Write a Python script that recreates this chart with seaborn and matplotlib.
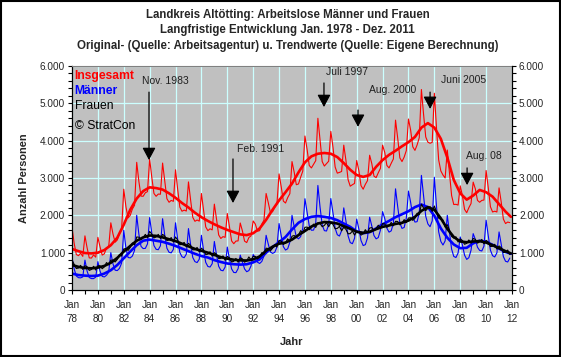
import matplotlib
matplotlib.use("Agg")
import matplotlib.pyplot as plt
from matplotlib.patches import Rectangle
from matplotlib.ticker import MultipleLocator, FixedLocator, FuncFormatter
import pandas as pd
import seaborn as sns

#%% Data
years = list(range(1978, 2012))
months = [1, 3, 5, 7, 9, 11]   # original values, every second month

maenner_raw = [
    [880, 565, 375, 330, 325, 350], [800, 505, 335, 305, 305, 345],
    [760, 505, 365, 350, 395, 475], [1000, 700, 530, 520, 580, 720],
    [1600, 1120, 870, 860, 910, 1060], [2000, 1495, 1170, 1110, 1115, 1235],
    [1940, 1520, 1190, 1090, 1080, 1185], [1910, 1465, 1120, 1010, 995, 1090],
    [1800, 1355, 1005, 890, 865, 960], [1645, 1210, 870, 760, 735, 825],
    [1465, 1065, 740, 630, 615, 705], [1300, 940, 635, 530, 515, 615],
    [1150, 835, 565, 470, 465, 570], [935, 750, 565, 490, 520, 645],
    [950, 865, 745, 710, 765, 910], [1465, 1230, 1020, 980, 1010, 1150],
    [1780, 1455, 1160, 1070, 1105, 1280], [2000, 1700, 1420, 1370, 1430, 1655],
    [2445, 2080, 1720, 1600, 1605, 1790], [2800, 2220, 1745, 1590, 1580, 1755],
    [2450, 2065, 1655, 1480, 1445, 1590], [2200, 1850, 1450, 1270, 1240, 1385],
    [1900, 1635, 1325, 1190, 1215, 1395], [1950, 1715, 1460, 1370, 1405, 1605],
    [2100, 1915, 1655, 1550, 1585, 1790], [2710, 2235, 1795, 1650, 1675, 1930],
    [2650, 2350, 1970, 1820, 1830, 2065], [3070, 2510, 1975, 1770, 1695, 1850],
    [3020, 2235, 1560, 1300, 1205, 1315], [2000, 1545, 1095, 900, 870, 990],
    [1420, 1205, 935, 820, 865, 1065], [1510, 1355, 1145, 1060, 1045, 1175],
    [1870, 1450, 1065, 920, 885, 995], [1555, 1220, 895, 770, 750, 855],
]
frauen_raw = [
    [800, 685, 575, 590, 660, 550], [650, 625, 525, 550, 635, 535],
    [650, 650, 570, 620, 735, 675], [800, 800, 750, 820, 950, 910],
    [1100, 1110, 1060, 1140, 1260, 1210], [1420, 1415, 1345, 1400, 1490, 1400],
    [1570, 1495, 1395, 1420, 1490, 1380], [1490, 1445, 1325, 1340, 1405, 1285],
    [1420, 1335, 1215, 1220, 1275, 1155], [1250, 1195, 1075, 1080, 1140, 1020],
    [1120, 1070, 950, 960, 1025, 905], [1000, 960, 840, 850, 915, 795],
    [900, 860, 750, 770, 845, 745], [860, 835, 745, 780, 885, 805],
    [900, 900, 830, 880, 1000, 960], [1120, 1110, 1050, 1120, 1210, 1150],
    [1330, 1310, 1220, 1260, 1370, 1300], [1440, 1460, 1400, 1470, 1590, 1530],
    [1680, 1685, 1615, 1670, 1765, 1675], [1800, 1785, 1695, 1730, 1805, 1695],
    [1800, 1760, 1640, 1650, 1705, 1585], [1680, 1625, 1505, 1510, 1580, 1470],
    [1570, 1560, 1470, 1510, 1615, 1535], [1660, 1670, 1590, 1640, 1735, 1655],
    [1780, 1770, 1680, 1720, 1810, 1720], [1840, 1835, 1745, 1790, 1885, 1805],
    [1930, 1935, 1865, 1920, 2055, 2015], [2300, 2195, 2125, 2190, 2235, 2105],
    [2250, 2095, 1925, 1890, 1875, 1685], [1750, 1605, 1435, 1390, 1425, 1285],
    [1370, 1325, 1225, 1250, 1340, 1250], [1380, 1355, 1255, 1290, 1355, 1235],
    [1330, 1285, 1165, 1170, 1225, 1095], [1180, 1135, 1005, 1010, 1070, 950],
]
insgesamt_raw = [
    [1680, 1250, 950, 920, 985, 900], [1450, 1130, 860, 855, 940, 880],
    [1410, 1155, 935, 970, 1130, 1150], [1800, 1500, 1280, 1340, 1530, 1630],
    [2700, 2230, 1930, 2000, 2170, 2270], [3420, 2910, 2515, 2510, 2605, 2635],
    [3510, 3015, 2585, 2510, 2570, 2565], [3400, 2910, 2445, 2350, 2400, 2375],
    [3220, 2690, 2220, 2110, 2140, 2115], [2895, 2405, 1945, 1840, 1875, 1845],
    [2585, 2135, 1690, 1590, 1640, 1610], [2300, 1900, 1475, 1380, 1430, 1410],
    [2050, 1695, 1315, 1240, 1310, 1315], [1795, 1585, 1310, 1270, 1405, 1450],
    [1850, 1765, 1575, 1590, 1765, 1870], [2585, 2340, 2070, 2100, 2220, 2300],
    [3110, 2765, 2380, 2330, 2475, 2580], [3440, 3160, 2820, 2840, 3020, 3185],
    [4125, 3765, 3335, 3270, 3370, 3465], [4600, 4005, 3440, 3320, 3385, 3450],
    [4250, 3825, 3295, 3130, 3150, 3175], [3880, 3475, 2955, 2780, 2820, 2855],
    [3470, 3195, 2795, 2700, 2830, 2930], [3610, 3385, 3050, 3010, 3140, 3260],
    [3880, 3685, 3335, 3270, 3395, 3510], [4550, 4070, 3540, 3440, 3560, 3735],
    [4580, 4285, 3835, 3740, 3885, 4080], [5370, 4705, 4100, 3960, 3930, 3955],
    [5270, 4330, 3485, 3190, 3080, 3000], [3750, 3150, 2530, 2290, 2295, 2275],
    [2790, 2530, 2160, 2070, 2205, 2315], [2890, 2710, 2400, 2350, 2400, 2410],
    [3200, 2735, 2230, 2090, 2110, 2090], [2735, 2355, 1900, 1780, 1820, 1805],
]

# trend values for Jan and Jul of every year, last one Dec 2011
insgesamt_trend = [
    1100, 1040, 990, 980, 1000, 1070, 1200, 1400, 1750, 2150, 2450, 2650,
    2750, 2730, 2690, 2590, 2470, 2330, 2210, 2070, 1950, 1850, 1760, 1680,
    1610, 1550, 1490, 1470, 1520, 1650, 1880, 2150, 2400, 2620, 2850, 3150,
    3420, 3580, 3650, 3670, 3650, 3560, 3400, 3220, 3080, 3030, 3080, 3300,
    3480, 3620, 3730, 3850, 3960, 4100, 4350, 4470, 4350, 4050, 3550, 2950,
    2590, 2420, 2530, 2680, 2620, 2500, 2300, 2100, 1960,
]
maenner_trend = [
    440, 400, 385, 375, 385, 440, 530, 670, 850, 1030, 1200, 1320,
    1350, 1320, 1290, 1240, 1180, 1110, 1040, 970, 910, 870, 800, 750,
    710, 690, 680, 690, 740, 820, 1000, 1150, 1280, 1420, 1620, 1800,
    1900, 1960, 1980, 1960, 1930, 1870, 1780, 1690, 1570, 1520, 1550, 1650,
    1760, 1850, 1950, 2030, 2110, 2220, 2290, 2220, 1990, 1650, 1400, 1220,
    1120, 1130, 1250, 1320, 1290, 1210, 1110, 1020, 970,
]
frauen_trend = [
    670, 620, 590, 580, 600, 645, 730, 860, 1030, 1180, 1320, 1410,
    1460, 1450, 1410, 1360, 1310, 1240, 1170, 1100, 1050, 1000, 940, 880,
    840, 810, 795, 790, 820, 900, 1050, 1160, 1240, 1270, 1350, 1470,
    1580, 1700, 1780, 1820, 1810, 1780, 1710, 1640, 1560, 1530, 1560, 1630,
    1690, 1730, 1770, 1800, 1860, 1960, 2120, 2220, 2150, 1920, 1640, 1420,
    1300, 1280, 1300, 1310, 1270, 1200, 1120, 1040, 980,
]

ann_labels = ["Nov. 1983", "Feb. 1991", "Juli 1997", "Aug. 2000", "Juni 2005", "Aug. 08"]

#%% Tables
raw = pd.DataFrame({
    "t": [y + (m - 1) / 12 for y in years for m in months],
    "Insgesamt": [v for row in insgesamt_raw for v in row],
    "Männer": [v for row in maenner_raw for v in row],
    "Frauen": [v for row in frauen_raw for v in row],
})
trend = pd.DataFrame({
    "t": [y + h for y in years for h in (0, 0.5)] + [years[-1] + 11 / 12],
    "Insgesamt": insgesamt_trend,
    "Männer": maenner_trend,
    "Frauen": frauen_trend,
})

#%% Plot
sns.set_style("white")
plt.rcParams["font.family"] = ["Liberation Sans", "DejaVu Sans"]

fig = plt.figure(figsize=(5.61, 3.57), dpi=100)
ax = fig.add_axes([72 / 561, 1 - 290 / 357, 440 / 561, 224 / 357])
ax.set_facecolor("#c0c0c0")

colors = {"Insgesamt": "#ff0000", "Männer": "#0000ff", "Frauen": "#000000"}
for name, col in colors.items():
    sns.lineplot(data=raw, x="t", y=name, color=col, lw=0.8, ax=ax,
                 estimator=None, sort=False)
    sns.lineplot(data=trend, x="t", y=name, color=col, lw=1.9, ax=ax,
                 estimator=None, sort=False)

ax.set_xlim(1978, 2012)
ax.set_ylim(0, 6000)
thousands = FuncFormatter(lambda v, p: f"{v:,.0f}".replace(",", "."))

ax.xaxis.set_major_locator(FixedLocator(range(1978, 2013, 2)))
ax.xaxis.set_minor_locator(MultipleLocator(1))
ax.set_xticklabels([f"Jan\n{y % 100:02d}" for y in range(1978, 2013, 2)],
                   linespacing=1.55)
ax.yaxis.set_major_locator(MultipleLocator(1000))
ax.yaxis.set_minor_locator(MultipleLocator(200))
ax.yaxis.set_major_formatter(thousands)
ax.grid(True, which="major", color="#ccffff", lw=0.9)
ax.set_axisbelow(True)
ax.tick_params(which="both", direction="out", length=3, width=0.8, color="black",
               labelsize=7.2, left=True, bottom=True, pad=2)
ax.tick_params(axis="x", pad=4)
ax.set_xlabel("Jahr", fontsize=7.9, fontweight="bold", labelpad=9)
ax.set_ylabel("Anzahl Personen", fontsize=7.9, fontweight="bold", labelpad=8)
for s in ["left", "bottom"]:
    ax.spines[s].set_color("black")
    ax.spines[s].set_linewidth(0.9)
ax.spines["top"].set_color("#808080")
ax.spines["right"].set_visible(False)

ax2 = ax.twinx()
ax2.set_ylim(0, 6000)
ax2.yaxis.set_major_locator(MultipleLocator(1000))
ax2.yaxis.set_minor_locator(MultipleLocator(200))
ax2.yaxis.set_major_formatter(thousands)
ax2.tick_params(which="both", direction="out", length=3, width=0.8, color="black",
                labelsize=7.2, right=True, pad=2)
ax2.spines["right"].set_color("black")
ax2.spines["right"].set_linewidth(0.9)
for s in ["top", "left", "bottom"]:
    ax2.spines[s].set_visible(False)

# legend as coloured text
ax.text(0.006, 0.955, "Insgesamt", color="#ff0000", fontsize=8.7, fontweight="bold",
        transform=ax.transAxes, va="center")
ax.text(0.006, 0.888, "Männer", color="#0000ff", fontsize=8.7, fontweight="bold",
        transform=ax.transAxes, va="center")
ax.text(0.006, 0.821, "Frauen", color="black", fontsize=8.7,
        transform=ax.transAxes, va="center")
ax.text(0.006, 0.732, "© StratCon", color="black", fontsize=8.7,
        transform=ax.transAxes, va="center")

# event arrows
arrow_x = [1983.95, 1990.44, 1997.47, 2000.10, 2005.67, 2008.53]
arrow_top = [5300, 3510, 5545, 4820, 5300, 3270]
arrow_tip = [3480, 2330, 4900, 4370, 4850, 2810]
text_pos = [(1985.2, 5600), (1992.55, 3780), (1999.25, 5850),
            (2002.75, 5360), (2008.25, 5630), (2009.85, 3590)]
for lab, x, y0, y1, (tx, ty) in zip(ann_labels, arrow_x, arrow_top, arrow_tip, text_pos):
    ax.annotate("", xy=(x, y1), xytext=(x, y0),
                arrowprops=dict(arrowstyle="-|>,head_length=0.75,head_width=0.4",
                                color="black", lw=0.9, shrinkA=0, shrinkB=0))
    ax.text(tx, ty, lab, fontsize=7.5, ha="center", va="center", color="#202020")

fig.text(0.513, 1 - 15 / 357, "Landkreis Altötting: Arbeitslose Männer und Frauen",
         ha="center", va="center", fontsize=8.3, fontweight="bold")
fig.text(0.513, 1 - 30 / 357, "Langfristige Entwicklung Jan. 1978 - Dez. 2011",
         ha="center", va="center", fontsize=8.3, fontweight="bold")
fig.text(0.513, 1 - 46 / 357,
         "Original- (Quelle: Arbeitsagentur) u. Trendwerte (Quelle: Eigene Berechnung)",
         ha="center", va="center", fontsize=8.3, fontweight="bold")

fig.patches.append(Rectangle((0.001, 0.002), 0.997, 0.996, transform=fig.transFigure,
                             fill=False, ec="black", lw=1.5))

fig.savefig("out.png", dpi=100)
